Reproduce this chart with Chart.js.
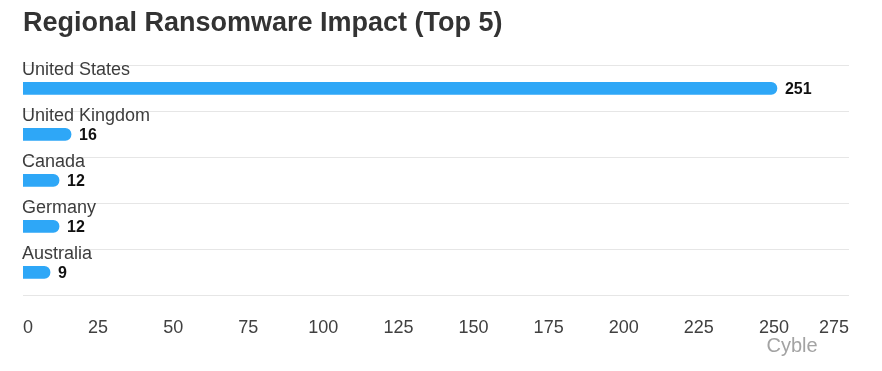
<!DOCTYPE html>
<html>
<head>
<meta charset="utf-8">
<script src="https://cdn.jsdelivr.net/npm/chart.js@4.4.0/dist/chart.umd.min.js"></script>
<style>
  html, body { margin: 0; padding: 0; background: #ffffff; }
  #wrap { width: 882px; height: 371px; position: relative; }
</style>
</head>
<body>
<div id="wrap"><canvas id="c" width="882" height="371"></canvas></div>
<script>
const categories = ["United States", "United Kingdom", "Canada", "Germany", "Australia"];
const impactValues = [251, 16, 12, 12, 9];
const xTickMin = 0;
const xTickMax = 275;
const xTickStep = 25;
const titleText = "Regional Ransomware Impact (Top 5)";
const watermarkText = "Cyble";

const labelsPlugin = {
  id: 'barLabels',
  afterDatasetsDraw(chart) {
    const ctx = chart.ctx;
    const meta = chart.getDatasetMeta(0);
    const area = chart.chartArea;
    ctx.save();
    meta.data.forEach((bar, i) => {
      ctx.font = '18px "Liberation Sans", Arial, sans-serif';
      ctx.fillStyle = '#3d3d3d';
      ctx.textAlign = 'left';
      ctx.textBaseline = 'middle';
      ctx.fillText(categories[i], area.left - 1, bar.y - 18);
      ctx.font = 'bold 16px "Liberation Sans", Arial, sans-serif';
      ctx.fillStyle = '#111111';
      ctx.fillText(String(impactValues[i]), bar.x + 8, bar.y + 1);
    });
    ctx.font = '20px "Liberation Sans", Arial, sans-serif';
    ctx.fillStyle = '#a3a3a3';
    ctx.textAlign = 'center';
    ctx.textBaseline = 'middle';
    ctx.fillText(watermarkText, 792, 346);
    ctx.restore();
  }
};

new Chart(document.getElementById('c'), {
  type: 'bar',
  data: {
    labels: categories,
    datasets: [{
      data: impactValues,
      backgroundColor: '#2ea7f7',
      barThickness: 12,
      borderRadius: 6,
      borderSkipped: 'start'
    }]
  },
  plugins: [labelsPlugin],
  options: {
    indexAxis: 'y',
    responsive: false,
    animation: false,
    devicePixelRatio: 1,
    layout: { padding: { left: 23, right: 33, top: 0, bottom: 10 } },
    plugins: {
      legend: { display: false },
      tooltip: { enabled: false },
      title: {
        display: true,
        text: titleText,
        align: 'start',
        color: '#333333',
        font: { family: '"Liberation Sans", Arial, sans-serif', size: 27, weight: 'bold' },
        padding: { top: 7, bottom: 26 }
      }
    },
    scales: {
      x: {
        min: xTickMin,
        max: xTickMax,
        grid: { display: false, drawTicks: false },
        border: { display: false },
        ticks: {
          stepSize: xTickStep,
          align: 'inner',
          padding: 22,
          color: '#404040',
          maxRotation: 0,
          autoSkip: false,
          font: { family: '"Liberation Sans", Arial, sans-serif', size: 18 }
        }
      },
      y: {
        grid: { display: true, offset: true, color: '#e6e6e6', lineWidth: 1, drawTicks: false },
        border: { display: false },
        ticks: { display: false }
      }
    }
  }
});
</script>
</body>
</html>
